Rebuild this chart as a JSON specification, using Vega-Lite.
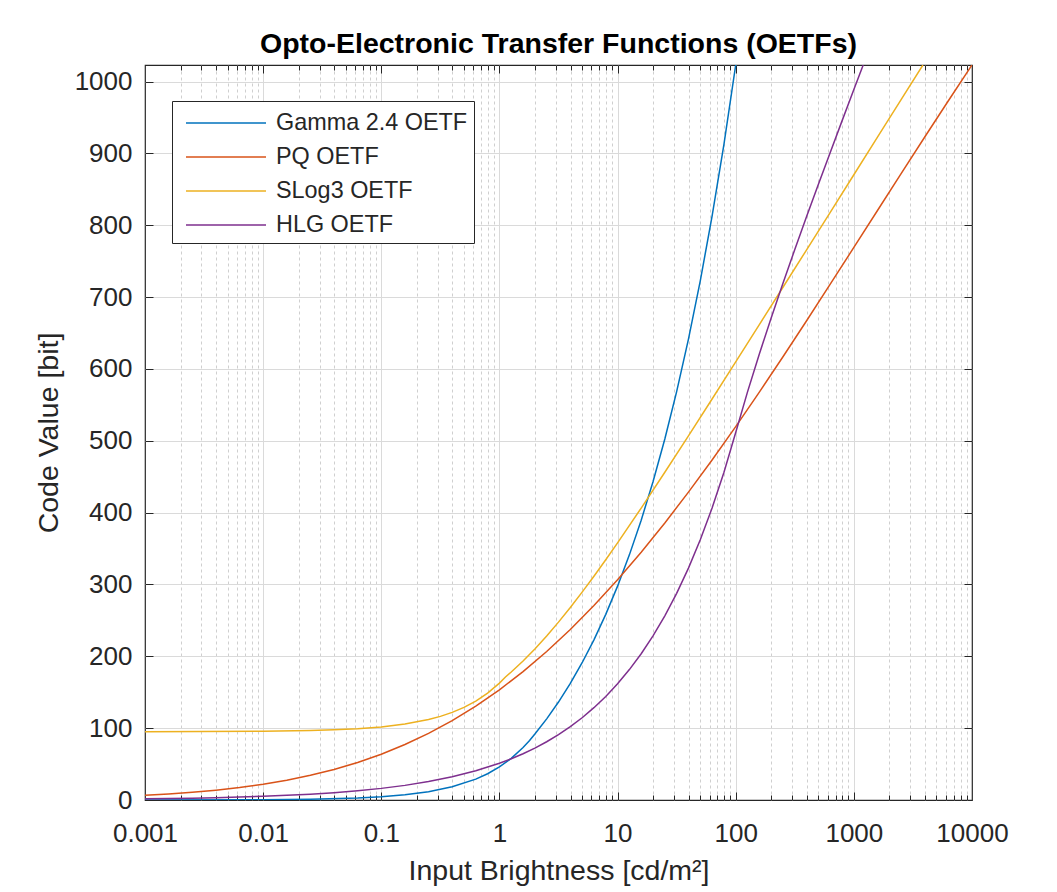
{
  "$schema": "https://vega.github.io/schema/vega-lite/v6.json",
  "width": 827,
  "height": 735,
  "autosize": {"type": "none"},
  "padding": {"left": 145, "top": 65, "right": 85, "bottom": 92},
  "title": {"text": "Opto-Electronic Transfer Functions (OETFs)", "anchor": "middle", "frame": "group", "offset": 4, "font": "Liberation Sans", "fontSize": 28.5, "fontWeight": "bold", "color": "#000000"},
  "data": {"values": [
    {"s": "Gamma 2.4 OETF", "x": 0.001, "y": 0.05},
    {"s": "Gamma 2.4 OETF", "x": 0.01, "y": 0.46},
    {"s": "Gamma 2.4 OETF", "x": 0.025119, "y": 1.16},
    {"s": "Gamma 2.4 OETF", "x": 0.063096, "y": 2.90},
    {"s": "Gamma 2.4 OETF", "x": 0.1, "y": 4.60},
    {"s": "Gamma 2.4 OETF", "x": 0.15849, "y": 7.30},
    {"s": "Gamma 2.4 OETF", "x": 0.25119, "y": 11.56},
    {"s": "Gamma 2.4 OETF", "x": 0.39811, "y": 18.33},
    {"s": "Gamma 2.4 OETF", "x": 0.63096, "y": 29.05},
    {"s": "Gamma 2.4 OETF", "x": 0.79433, "y": 36.57},
    {"s": "Gamma 2.4 OETF", "x": 1, "y": 46.04},
    {"s": "Gamma 2.4 OETF", "x": 1.2589, "y": 57.95},
    {"s": "Gamma 2.4 OETF", "x": 1.5849, "y": 72.96},
    {"s": "Gamma 2.4 OETF", "x": 1.8, "y": 82.86},
    {"s": "Gamma 2.4 OETF", "x": 1.9953, "y": 91.86},
    {"s": "Gamma 2.4 OETF", "x": 2.5119, "y": 112.95},
    {"s": "Gamma 2.4 OETF", "x": 3.1623, "y": 136.34},
    {"s": "Gamma 2.4 OETF", "x": 3.9811, "y": 162.28},
    {"s": "Gamma 2.4 OETF", "x": 5.0119, "y": 191.06},
    {"s": "Gamma 2.4 OETF", "x": 6.3096, "y": 222.96},
    {"s": "Gamma 2.4 OETF", "x": 7.9433, "y": 258.37},
    {"s": "Gamma 2.4 OETF", "x": 10, "y": 297.63},
    {"s": "Gamma 2.4 OETF", "x": 12.589, "y": 341.18},
    {"s": "Gamma 2.4 OETF", "x": 15.849, "y": 389.49},
    {"s": "Gamma 2.4 OETF", "x": 19.953, "y": 443.06},
    {"s": "Gamma 2.4 OETF", "x": 25.119, "y": 502.49},
    {"s": "Gamma 2.4 OETF", "x": 31.623, "y": 568.41},
    {"s": "Gamma 2.4 OETF", "x": 39.811, "y": 641.52},
    {"s": "Gamma 2.4 OETF", "x": 50.119, "y": 722.61},
    {"s": "Gamma 2.4 OETF", "x": 63.096, "y": 812.56},
    {"s": "Gamma 2.4 OETF", "x": 79.433, "y": 912.34},
    {"s": "Gamma 2.4 OETF", "x": 100, "y": 1023},
    {"s": "PQ OETF", "x": 0.001, "y": 6.45},
    {"s": "PQ OETF", "x": 0.0015849, "y": 8.33},
    {"s": "PQ OETF", "x": 0.0025119, "y": 10.70},
    {"s": "PQ OETF", "x": 0.0039811, "y": 13.69},
    {"s": "PQ OETF", "x": 0.0063096, "y": 17.40},
    {"s": "PQ OETF", "x": 0.01, "y": 21.98},
    {"s": "PQ OETF", "x": 0.015849, "y": 27.59},
    {"s": "PQ OETF", "x": 0.025119, "y": 34.39},
    {"s": "PQ OETF", "x": 0.039811, "y": 42.56},
    {"s": "PQ OETF", "x": 0.063096, "y": 52.29},
    {"s": "PQ OETF", "x": 0.1, "y": 63.77},
    {"s": "PQ OETF", "x": 0.15849, "y": 77.18},
    {"s": "PQ OETF", "x": 0.25119, "y": 92.69},
    {"s": "PQ OETF", "x": 0.39811, "y": 110.48},
    {"s": "PQ OETF", "x": 0.63096, "y": 130.67},
    {"s": "PQ OETF", "x": 1, "y": 153.40},
    {"s": "PQ OETF", "x": 1.5849, "y": 178.73},
    {"s": "PQ OETF", "x": 2.5119, "y": 206.72},
    {"s": "PQ OETF", "x": 3.9811, "y": 237.39},
    {"s": "PQ OETF", "x": 6.3096, "y": 270.71},
    {"s": "PQ OETF", "x": 10, "y": 306.59},
    {"s": "PQ OETF", "x": 15.849, "y": 344.95},
    {"s": "PQ OETF", "x": 25.119, "y": 385.64},
    {"s": "PQ OETF", "x": 39.811, "y": 428.48},
    {"s": "PQ OETF", "x": 63.096, "y": 473.26},
    {"s": "PQ OETF", "x": 100, "y": 519.77},
    {"s": "PQ OETF", "x": 158.49, "y": 567.74},
    {"s": "PQ OETF", "x": 251.19, "y": 616.94},
    {"s": "PQ OETF", "x": 398.11, "y": 667.07},
    {"s": "PQ OETF", "x": 630.96, "y": 717.89},
    {"s": "PQ OETF", "x": 1000, "y": 769.12},
    {"s": "PQ OETF", "x": 1584.9, "y": 820.51},
    {"s": "PQ OETF", "x": 2511.9, "y": 871.82},
    {"s": "PQ OETF", "x": 3981.1, "y": 922.82},
    {"s": "PQ OETF", "x": 6309.6, "y": 973.27},
    {"s": "PQ OETF", "x": 10000, "y": 1023},
    {"s": "SLog3 OETF", "x": 0.001, "y": 95.07},
    {"s": "SLog3 OETF", "x": 0.01, "y": 95.68},
    {"s": "SLog3 OETF", "x": 0.025119, "y": 96.70},
    {"s": "SLog3 OETF", "x": 0.039811, "y": 97.70},
    {"s": "SLog3 OETF", "x": 0.063096, "y": 99.27},
    {"s": "SLog3 OETF", "x": 0.1, "y": 101.77},
    {"s": "SLog3 OETF", "x": 0.15849, "y": 105.74},
    {"s": "SLog3 OETF", "x": 0.25119, "y": 112.02},
    {"s": "SLog3 OETF", "x": 0.31623, "y": 116.42},
    {"s": "SLog3 OETF", "x": 0.39811, "y": 121.97},
    {"s": "SLog3 OETF", "x": 0.50119, "y": 128.95},
    {"s": "SLog3 OETF", "x": 0.63096, "y": 137.74},
    {"s": "SLog3 OETF", "x": 0.79433, "y": 148.81},
    {"s": "SLog3 OETF", "x": 1, "y": 162.74},
    {"s": "SLog3 OETF", "x": 1.125, "y": 171.21},
    {"s": "SLog3 OETF", "x": 1.2589, "y": 178.15},
    {"s": "SLog3 OETF", "x": 1.5849, "y": 193.46},
    {"s": "SLog3 OETF", "x": 1.9953, "y": 210.19},
    {"s": "SLog3 OETF", "x": 2.5119, "y": 228.26},
    {"s": "SLog3 OETF", "x": 3.1623, "y": 247.56},
    {"s": "SLog3 OETF", "x": 3.9811, "y": 267.96},
    {"s": "SLog3 OETF", "x": 5.0119, "y": 289.32},
    {"s": "SLog3 OETF", "x": 6.3096, "y": 311.51},
    {"s": "SLog3 OETF", "x": 7.9433, "y": 334.42},
    {"s": "SLog3 OETF", "x": 10, "y": 357.93},
    {"s": "SLog3 OETF", "x": 15.849, "y": 406.35},
    {"s": "SLog3 OETF", "x": 25.119, "y": 456.14},
    {"s": "SLog3 OETF", "x": 39.811, "y": 506.82},
    {"s": "SLog3 OETF", "x": 63.096, "y": 558.09},
    {"s": "SLog3 OETF", "x": 100, "y": 609.74},
    {"s": "SLog3 OETF", "x": 158.49, "y": 661.62},
    {"s": "SLog3 OETF", "x": 251.19, "y": 713.66},
    {"s": "SLog3 OETF", "x": 398.11, "y": 765.79},
    {"s": "SLog3 OETF", "x": 630.96, "y": 817.99},
    {"s": "SLog3 OETF", "x": 1000, "y": 870.22},
    {"s": "SLog3 OETF", "x": 1584.9, "y": 922.48},
    {"s": "SLog3 OETF", "x": 2511.9, "y": 974.75},
    {"s": "SLog3 OETF", "x": 3841.7, "y": 1023},
    {"s": "HLG OETF", "x": 0.001, "y": 1.62},
    {"s": "HLG OETF", "x": 0.0015849, "y": 2.04},
    {"s": "HLG OETF", "x": 0.0025119, "y": 2.56},
    {"s": "HLG OETF", "x": 0.0039811, "y": 3.23},
    {"s": "HLG OETF", "x": 0.0063096, "y": 4.06},
    {"s": "HLG OETF", "x": 0.01, "y": 5.12},
    {"s": "HLG OETF", "x": 0.015849, "y": 6.44},
    {"s": "HLG OETF", "x": 0.025119, "y": 8.11},
    {"s": "HLG OETF", "x": 0.039811, "y": 10.21},
    {"s": "HLG OETF", "x": 0.063096, "y": 12.85},
    {"s": "HLG OETF", "x": 0.1, "y": 16.18},
    {"s": "HLG OETF", "x": 0.15849, "y": 20.36},
    {"s": "HLG OETF", "x": 0.25119, "y": 25.64},
    {"s": "HLG OETF", "x": 0.39811, "y": 32.27},
    {"s": "HLG OETF", "x": 0.63096, "y": 40.63},
    {"s": "HLG OETF", "x": 1, "y": 51.15},
    {"s": "HLG OETF", "x": 1.2589, "y": 57.39},
    {"s": "HLG OETF", "x": 1.5849, "y": 64.39},
    {"s": "HLG OETF", "x": 1.9953, "y": 72.25},
    {"s": "HLG OETF", "x": 2.5119, "y": 81.07},
    {"s": "HLG OETF", "x": 3.1623, "y": 90.96},
    {"s": "HLG OETF", "x": 3.9811, "y": 102.06},
    {"s": "HLG OETF", "x": 5.0119, "y": 114.51},
    {"s": "HLG OETF", "x": 6.3096, "y": 128.48},
    {"s": "HLG OETF", "x": 7.9433, "y": 144.16},
    {"s": "HLG OETF", "x": 10, "y": 161.75},
    {"s": "HLG OETF", "x": 12.589, "y": 181.49},
    {"s": "HLG OETF", "x": 15.849, "y": 203.63},
    {"s": "HLG OETF", "x": 19.953, "y": 228.48},
    {"s": "HLG OETF", "x": 25.119, "y": 256.36},
    {"s": "HLG OETF", "x": 31.623, "y": 287.64},
    {"s": "HLG OETF", "x": 39.811, "y": 322.74},
    {"s": "HLG OETF", "x": 50.119, "y": 362.11},
    {"s": "HLG OETF", "x": 63.096, "y": 406.30},
    {"s": "HLG OETF", "x": 79.433, "y": 455.88},
    {"s": "HLG OETF", "x": 100, "y": 511.50},
    {"s": "HLG OETF", "x": 125.89, "y": 568.02},
    {"s": "HLG OETF", "x": 158.49, "y": 620.82},
    {"s": "HLG OETF", "x": 199.53, "y": 671.00},
    {"s": "HLG OETF", "x": 251.19, "y": 719.28},
    {"s": "HLG OETF", "x": 316.23, "y": 766.15},
    {"s": "HLG OETF", "x": 398.11, "y": 811.97},
    {"s": "HLG OETF", "x": 501.19, "y": 856.96},
    {"s": "HLG OETF", "x": 630.96, "y": 901.34},
    {"s": "HLG OETF", "x": 794.33, "y": 945.24},
    {"s": "HLG OETF", "x": 1000, "y": 988.75},
    {"s": "HLG OETF", "x": 1122, "y": 1010.40},
    {"s": "HLG OETF", "x": 1200, "y": 1023}
  ]},
  "layer": [
    {
      "mark": {"type": "line", "clip": true, "strokeWidth": 1.5},
      "encoding": {
        "x": {"field": "x", "type": "quantitative",
          "scale": {"type": "log", "domain": [0.001, 10000], "nice": false},
          "axis": {"orient": "bottom", "values": [0.001, 0.01, 0.1, 1, 10, 100, 1000, 10000], "format": "~g",
            "title": "Input Brightness [cd/m²]", "grid": false, "ticks": false, "domain": false,
            "labelPadding": 20, "titlePadding": 10, "labelFlush": false, "labelOverlap": false}},
        "y": {"field": "y", "type": "quantitative",
          "scale": {"domain": [0, 1023], "nice": false, "zero": false},
          "axis": {"orient": "left", "values": [0, 100, 200, 300, 400, 500, 600, 700, 800, 900, 1000], "format": "d",
            "title": "Code Value [bit]", "grid": false, "ticks": false, "domain": false,
            "labelPadding": 13, "titlePadding": 11, "labelFlush": false, "labelOverlap": false}},
        "color": {"field": "s", "type": "nominal",
          "scale": {"domain": ["Gamma 2.4 OETF", "PQ OETF", "SLog3 OETF", "HLG OETF"], "range": ["#0072BD", "#D95319", "#EDB120", "#7E2F8E"]},
          "legend": {"title": null, "orient": "none", "legendX": 27, "legendY": 36,
            "fillColor": "#ffffff", "strokeColor": "#262626", "padding": 6,
            "labelFont": "Liberation Sans", "labelFontSize": 23.4, "labelColor": "#262626", "labelLimit": 400,
            "symbolType": "M-2.667,0H2.667", "symbolSize": 900, "symbolStrokeWidth": 1.5,
            "symbolOffset": 32, "labelOffset": 34, "rowPadding": 6}}
      }
    },
    {
      "mark": {"type": "point", "opacity": 0},
      "encoding": {
        "x": {"field": "x", "type": "quantitative", "scale": {"type": "log", "domain": [0.001, 10000], "nice": false},
          "axis": {"orient": "bottom", "values": [0.01, 0.1, 1, 10, 100, 1000], "labels": false, "domain": false, "title": null,
            "offset": -8, "tickSize": 8, "grid": true}},
        "y": {"field": "y", "type": "quantitative", "scale": {"domain": [0, 1023], "nice": false, "zero": false},
          "axis": {"orient": "left", "values": [100, 200, 300, 400, 500, 600, 700, 800, 900, 1000], "labels": false, "domain": false, "title": null,
            "offset": -8, "tickSize": 8, "grid": true}}
      }
    },
    {
      "mark": {"type": "point", "opacity": 0},
      "encoding": {
        "x": {"field": "x", "type": "quantitative", "scale": {"type": "log", "domain": [0.001, 10000], "nice": false},
          "axis": {"orient": "bottom", "values": [0.002,0.003,0.004,0.005,0.006,0.007,0.008,0.009,0.02,0.03,0.04,0.05,0.06,0.07,0.08,0.09,0.2,0.3,0.4,0.5,0.6,0.7,0.8,0.9,2,3,4,5,6,7,8,9,20,30,40,50,60,70,80,90,200,300,400,500,600,700,800,900,2000,3000,4000,5000,6000,7000,8000,9000],
            "labels": false, "domain": false, "title": null, "offset": -5, "tickSize": 5,
            "grid": true, "gridColor": "#cfcfcf", "gridDash": [3, 3]}},
        "y": {"field": "y", "type": "quantitative", "scale": {"domain": [0, 1023], "nice": false, "zero": false},
          "axis": {"orient": "right", "values": [100, 200, 300, 400, 500, 600, 700, 800, 900, 1000], "labels": false, "domain": false, "title": null,
            "offset": -8, "tickSize": 8, "grid": false}}
      }
    },
    {
      "mark": {"type": "point", "opacity": 0},
      "encoding": {
        "x": {"field": "x", "type": "quantitative", "scale": {"type": "log", "domain": [0.001, 10000], "nice": false},
          "axis": {"orient": "top", "values": [0.01, 0.1, 1, 10, 100, 1000], "labels": false, "domain": false, "title": null,
            "offset": -8, "tickSize": 8, "grid": false}},
        "y": {"field": "y", "type": "quantitative", "scale": {"domain": [0, 1023], "nice": false, "zero": false}, "axis": null}
      }
    },
    {
      "mark": {"type": "point", "opacity": 0},
      "encoding": {
        "x": {"field": "x", "type": "quantitative", "scale": {"type": "log", "domain": [0.001, 10000], "nice": false},
          "axis": {"orient": "top", "values": [0.002,0.003,0.004,0.005,0.006,0.007,0.008,0.009,0.02,0.03,0.04,0.05,0.06,0.07,0.08,0.09,0.2,0.3,0.4,0.5,0.6,0.7,0.8,0.9,2,3,4,5,6,7,8,9,20,30,40,50,60,70,80,90,200,300,400,500,600,700,800,900,2000,3000,4000,5000,6000,7000,8000,9000],
            "labels": false, "domain": false, "title": null, "offset": -5, "tickSize": 5, "grid": false}},
        "y": {"field": "y", "type": "quantitative", "scale": {"domain": [0, 1023], "nice": false, "zero": false}, "axis": null}
      }
    }
  ],
  "resolve": {"axis": {"x": "independent", "y": "independent"}},
  "config": {
    "background": "#ffffff",
    "view": {"stroke": "#262626", "strokeWidth": 1.2},
    "axis": {
      "labelFont": "Liberation Sans", "labelFontSize": 26, "labelColor": "#262626",
      "titleFont": "Liberation Sans", "titleFontSize": 28.5, "titleFontWeight": "normal", "titleColor": "#262626",
      "tickColor": "#262626", "tickWidth": 1, "gridColor": "#dadada", "gridWidth": 1
    }
  }
}
